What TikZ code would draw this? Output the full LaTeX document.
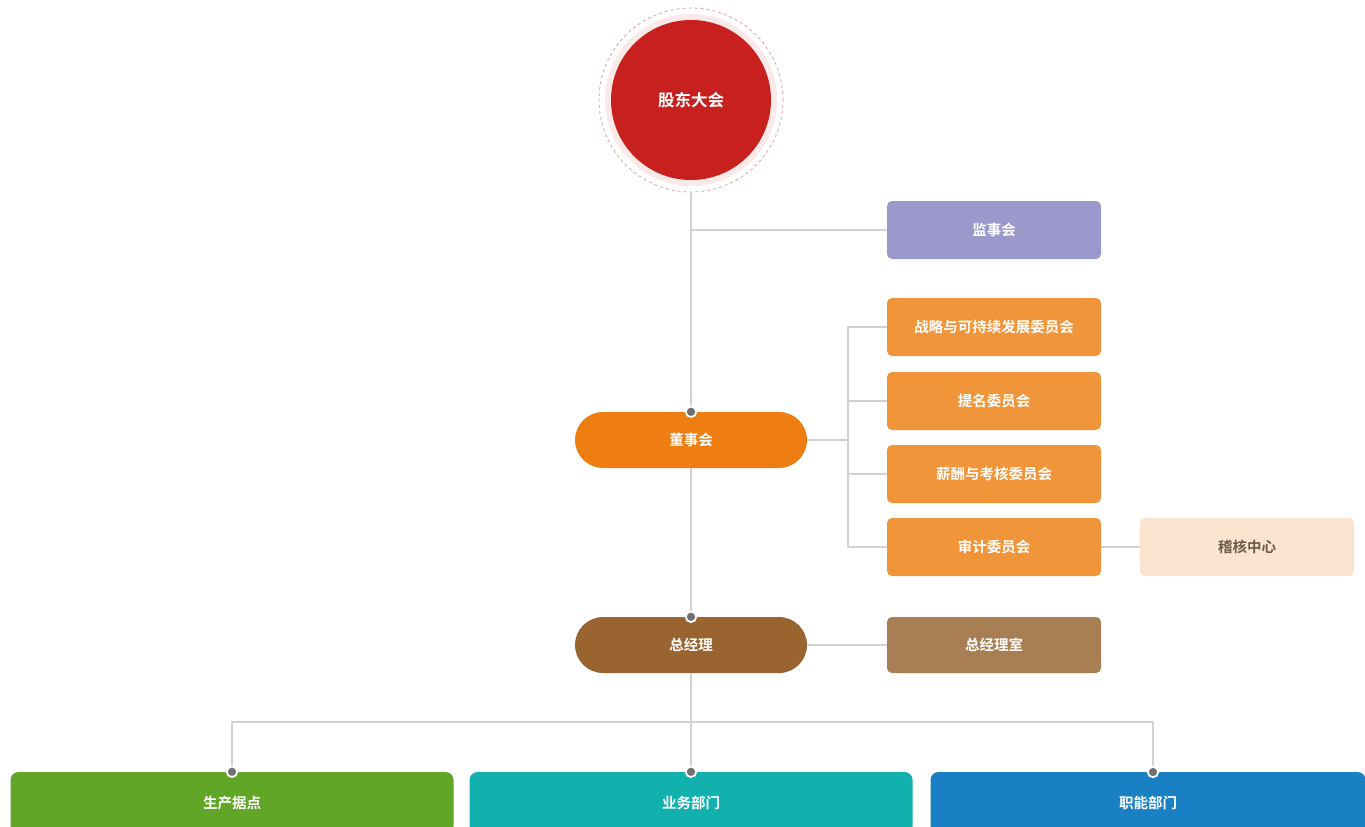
\documentclass[tikz,border=0pt]{standalone}
\usepackage{fontspec}
\setmainfont{Noto Sans CJK SC}[BoldFont={Noto Sans CJK SC Bold}]
\definecolor{cRed}{HTML}{C8201F}
\definecolor{cRing}{HTML}{D9A0A6}
\definecolor{cPurple}{HTML}{9B98CC}
\definecolor{cOrange}{HTML}{F0953A}
\definecolor{cBoard}{HTML}{EE7D12}
\definecolor{cPeach}{HTML}{FAE4D0}
\definecolor{cBrown}{HTML}{9A6431}
\definecolor{cBrownL}{HTML}{A87E54}
\definecolor{cGreen}{HTML}{62A627}
\definecolor{cTeal}{HTML}{13B1AE}
\definecolor{cBlue}{HTML}{1A80C4}
\definecolor{cLine}{HTML}{D2D2D2}
\definecolor{cDot}{HTML}{707070}
\definecolor{cDark}{HTML}{6A5A4C}
\begin{document}
\begin{tikzpicture}[x=1pt,y=-1pt,
  box/.style={rectangle, rounded corners=5pt, minimum width=214pt, minimum height=58pt, text=white, font=\fontsize{14.5}{16}\selectfont\bfseries, inner sep=0pt},
  pill/.style={rectangle, rounded corners=28pt, minimum width=232pt, minimum height=56pt, text=white, font=\fontsize{14.5}{16}\selectfont\bfseries, inner sep=0pt},
  dept/.style={rectangle, rounded corners=8pt, minimum width=443pt, minimum height=62pt, text=white, font=\fontsize{14.5}{16}\selectfont\bfseries, inner sep=0pt},
  link/.style={draw=cLine, line width=1.6pt},
  dot/.style={circle, fill=cDot, draw=white, line width=1.8pt, minimum size=10.5pt, inner sep=0pt}
]
\useasboundingbox (0,0) rectangle (1365,827);
\clip (0,0) rectangle (1365,827);
\fill[white] (0,0) rectangle (1365,827);

% shareholders meeting
\node[circle, fill=cRed!10, minimum size=172pt, inner sep=0pt] (glow) at (691,100) {};
\node[circle, draw=cRing, dashed, line width=0.8pt, minimum size=184pt, inner sep=0pt] (ring) at (691,100) {};
\node[circle, fill=cRed, minimum size=160pt, inner sep=0pt, text=white, font=\fontsize{16.5}{18}\selectfont\bfseries] (agm) at (691,100) {股东大会};

% supervisory board
\node[box, fill=cPurple] (sup) at (994,230) {监事会};

% board
\node[pill, fill=cBoard] (bod) at (691,440) {董事会};

% committees
\node[box, fill=cOrange] (c1) at (994,327) {战略与可持续发展委员会};
\node[box, fill=cOrange] (c2) at (994,401) {提名委员会};
\node[box, fill=cOrange] (c3) at (994,474) {薪酬与考核委员会};
\node[box, fill=cOrange] (c4) at (994,547) {审计委员会};
\node[box, fill=cPeach, text=cDark] (aud) at (1247,547) {稽核中心};

% general manager
\node[pill, fill=cBrown] (gm) at (691,645) {总经理};
\node[box, fill=cBrownL, minimum height=56pt] (gmo) at (994,645) {总经理室};

% departments
\node[dept, fill=cGreen] (pr) at (232,803) {生产据点};
\node[dept, fill=cTeal] (bu) at (691,803) {业务部门};
\node[dept, fill=cBlue, minimum width=435pt] (fn) at (1148,803) {职能部门};

% junctions
\coordinate (j1) at (691,230);
\coordinate (bx) at (848,440);
\coordinate (hb) at (691,722);
\coordinate (fj) at (1153,772);

% connectors
\path[link] (ring.south) -- (bod.north);
\path[link] (j1) -- (sup.west);
\path[link] (bod.east) -- (bx);
\path[link] (c1.west) -- (c1.west -| bx) -- (c4.west -| bx) -- (c4.west);
\path[link] (c2.west) -- (c2.west -| bx);
\path[link] (c3.west) -- (c3.west -| bx);
\path[link] (c4.east) -- (aud.west);
\path[link] (bod.south) -- (gm.north);
\path[link] (gm.east) -- (gmo.west);
\path[link] (gm.south) -- (bu.north);
\path[link] (pr.north) |- (hb) -| (fj);

% dots
\node[dot] (d1) at (bod.north) {};
\node[dot] (d2) at (gm.north) {};
\node[dot] (d3) at (pr.north) {};
\node[dot] (d4) at (bu.north) {};
\node[dot] (d5) at (fj) {};
\end{tikzpicture}
\end{document}
